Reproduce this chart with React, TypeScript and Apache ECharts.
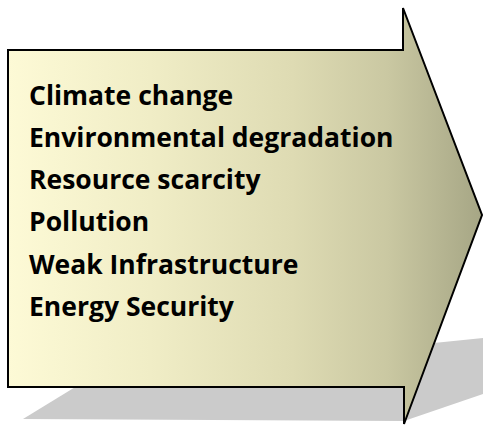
import React, { useEffect, useRef } from "react";
import * as echarts from "echarts";

const items: string[] = [
  "Climate change",
  "Environmental degradation",
  "Resource scarcity",
  "Pollution",
  "Weak Infrastructure",
  "Energy Security",
];

export default function App() {
  const ref = useRef<HTMLDivElement>(null);
  useEffect(() => {
    if (!ref.current) return;
    const chart = echarts.init(ref.current, null, { renderer: "svg" });
    const arrow = [
      [8, 50],
      [403, 50],
      [403, 8],
      [482, 215],
      [404, 424],
      [404, 387],
      [8, 387],
    ];
    const shadow = [
      [23, 419],
      [90, 378],
      [483, 338],
      [483, 394],
      [404, 421],
    ];
    const texts = items.map((t, i) => ({
      type: "text",
      x: 29,
      y: 81 + i * 42.3,
      style: {
        text: t,
        fill: "#000",
        fontFamily: "'Open Sans', sans-serif",
        fontWeight: "bold",
        fontSize: 26.5,
        align: "left",
        verticalAlign: "top",
      },
      z: 10,
    }));
    chart.setOption({
      animation: false,
      graphic: [
        {
          type: "polygon",
          shape: { points: shadow },
          style: { fill: "#cbcbcb" },
          z: 1,
        },
        {
          type: "polygon",
          shape: { points: arrow },
          style: {
            fill: new echarts.graphic.LinearGradient(0, 0, 1, 0, [
              { offset: 0, color: "#fdfad6" },
              { offset: 0.3, color: "#f0edc6" },
              { offset: 0.6, color: "#dedbb3" },
              { offset: 0.8, color: "#cac8a2" },
              { offset: 1, color: "#a6a685" },
            ]),
            stroke: "#000",
            lineWidth: 2,
            lineJoin: "miter",
          },
          z: 2,
        },
        ...texts,
      ],
    });
    return () => chart.dispose();
  }, []);
  return (
    <div
      ref={ref}
      style={{ position: "fixed", left: 0, top: 0, width: 483, height: 426, background: "#fff" }}
    />
  );
}
